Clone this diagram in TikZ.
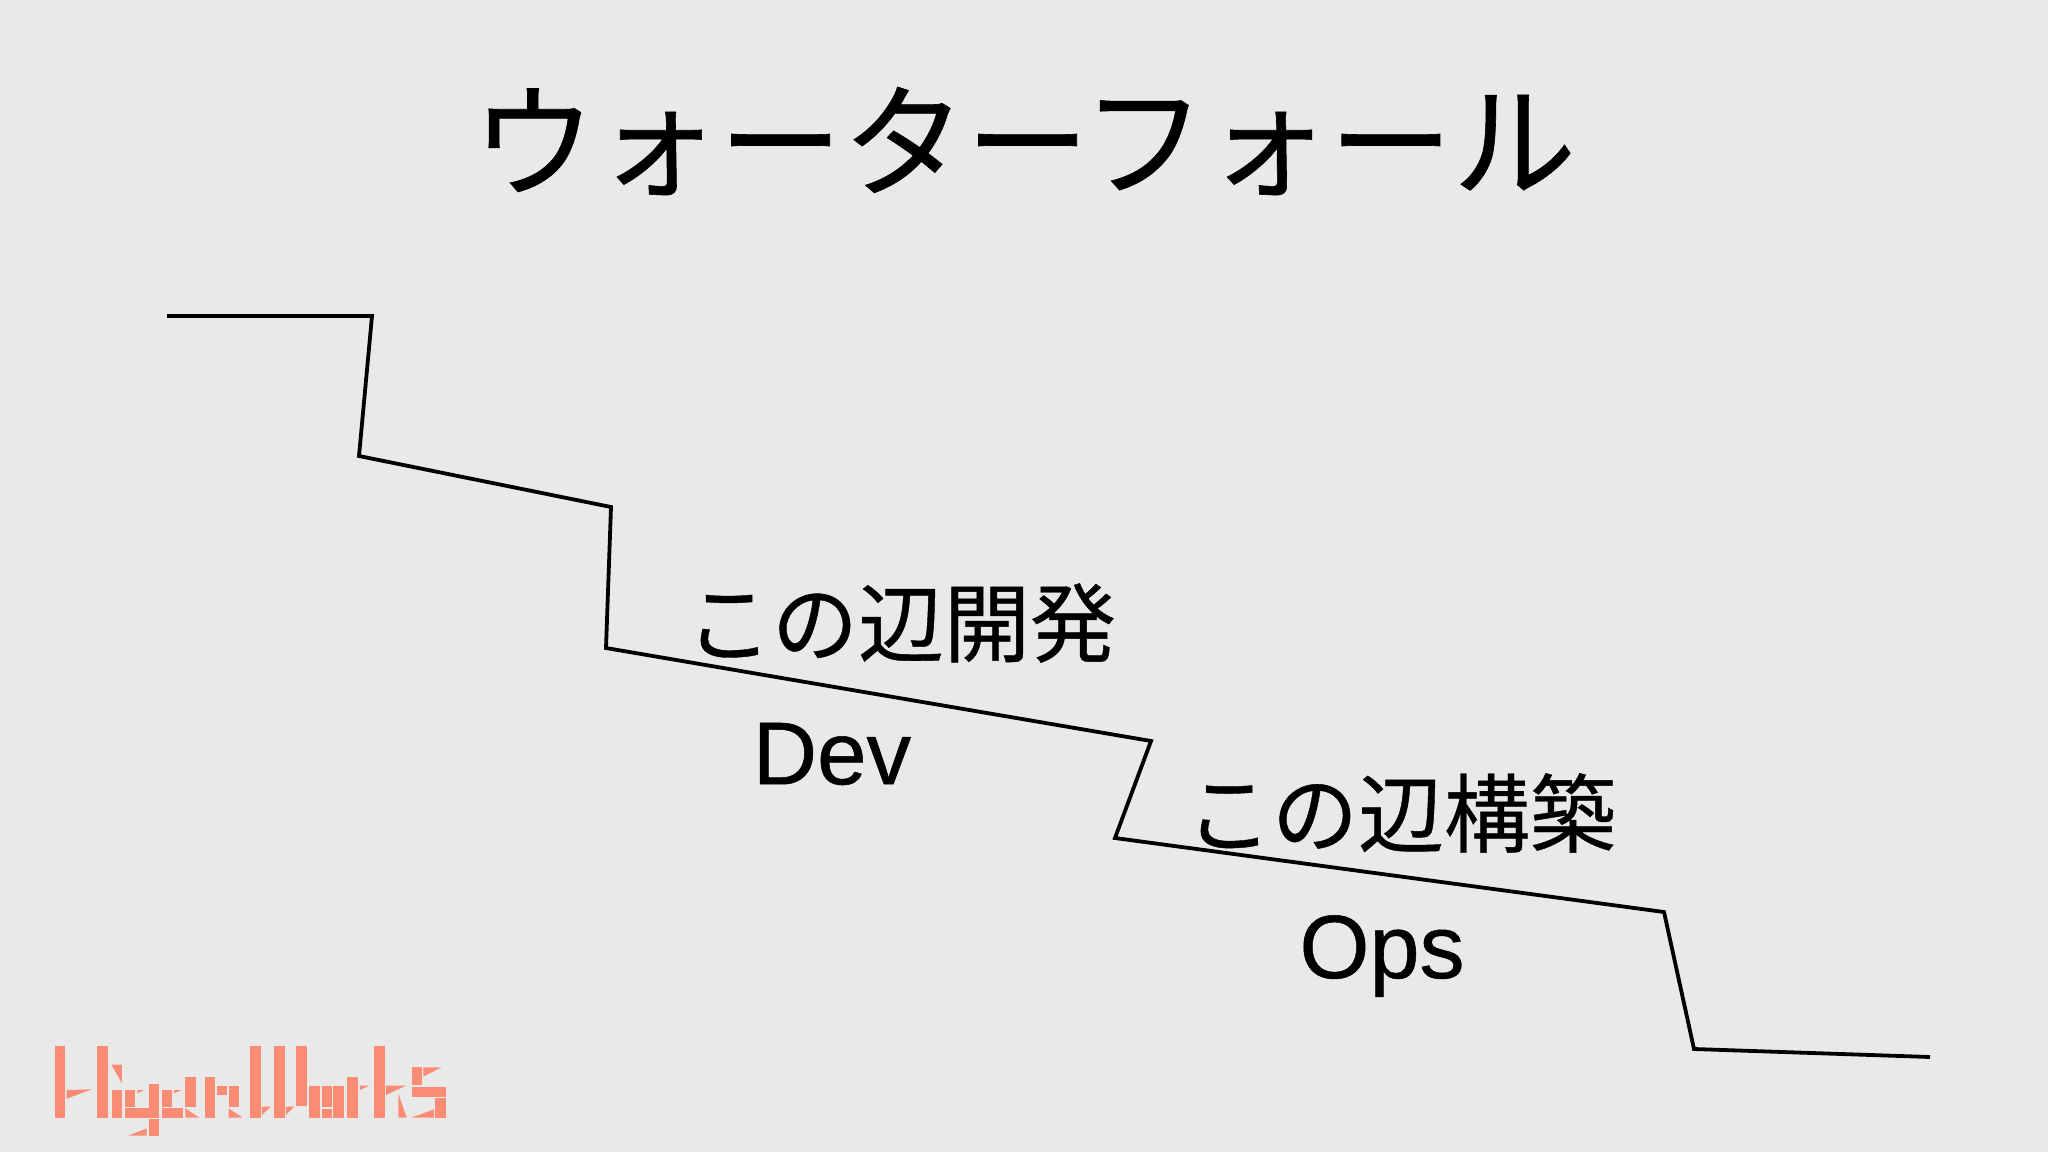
\documentclass[tikz,border=0pt]{standalone}
\usepackage{fontspec}
\setmainfont[FakeBold=0.5]{Noto Sans CJK JP}
\setsansfont[FakeBold=0.6]{Liberation Sans}
\definecolor{slidegray}{RGB}{233,233,234}
\definecolor{logosalmon}{RGB}{250,140,118}
\tikzset{
  every node/.style={inner sep=0pt, text=black},
  stairline/.style={line width=3.8pt, color=black, line join=miter},
  logopiece/.style={fill=logosalmon, draw=none},
}
\begin{document}
\begin{tikzpicture}[x=1pt, y=1pt]
\fill [slidegray] (0, 0) rectangle (2048, -1152);
\useasboundingbox (0, 0) rectangle (2048, -1152);
\node (title) at (1024, -141) {\fontsize{123.5}{124}\selectfont ウォーターフォール};
\node (dev-ja) at (901, -623) {\fontsize{86}{86}\selectfont この辺開発};
\node (dev-en) at (832, -754) {\fontsize{89}{89}\sffamily Dev};
\node (ops-ja) at (1401, -813) {\fontsize{86}{86}\selectfont この辺構築};
\node (ops-en) at (1382, -956) {\fontsize{90}{90}\sffamily Ops};
\coordinate (s0) at (167, -316);
\coordinate (s1) at (372, -316);
\coordinate (s2) at (359, -456);
\coordinate (s3) at (611, -507);
\coordinate (s4) at (606, -648);
\coordinate (s5) at (1151, -741);
\coordinate (s6) at (1115, -838);
\coordinate (s7) at (1664, -912);
\coordinate (s8) at (1694, -1049);
\coordinate (s9) at (1930, -1057);
\draw [stairline] (s0) -- (s1) -- (s2) -- (s3) -- (s4) -- (s5) -- (s6) -- (s7) -- (s8) -- (s9);
% logo
\begin{scope}[shift={(30, -1020)}, x=0.3333pt, y=-0.3333pt]
\fill [logopiece] (74, 78) rectangle (106, 293);
\fill [logopiece] (110, 210) -- (186, 208) -- (110, 236) -- cycle;
\fill [logopiece] (202, 78) rectangle (234, 293);
\fill [logopiece] (244, 134) -- (276, 134) -- (276, 190) -- cycle;
\fill [logopiece] (246, 210) rectangle (276, 293);
\fill [logopiece] (286, 210) rectangle (314, 260);
\fill [logopiece] (322, 210) -- (342, 210) -- (322, 220) -- cycle;
\fill [logopiece] (356, 192) rectangle (387, 263);
\fill [logopiece] (286, 265) rectangle (387, 293);
\fill [logopiece] (295, 347) -- (350, 325) -- (350, 347) -- cycle;
\fill [logopiece] (356, 298) rectangle (387, 347);
\fill [logopiece] (396, 210) rectangle (426, 260);
\fill [logopiece] (432, 210) -- (455, 210) -- (432, 220) -- cycle;
\fill [logopiece] (396, 265) rectangle (458, 293);
\fill [logopiece] (466, 172) rectangle (498, 260);
\fill [logopiece] (466, 265) -- (508, 293) -- (466, 293) -- cycle;
\fill [logopiece] (524, 172) rectangle (555, 293);
\fill [logopiece] (560, 198) rectangle (590, 225);
\fill [logopiece] (596, 198) rectangle (628, 262);
\fill [logopiece] (596, 265) -- (638, 293) -- (596, 293) -- cycle;
\fill [logopiece] (660, 78) rectangle (692, 293);
\fill [logopiece] (696, 260) -- (722, 260) -- (696, 285) -- cycle;
\fill [logopiece] (732, 78) rectangle (764, 293);
\fill [logopiece] (768, 260) -- (792, 260) -- (768, 285) -- cycle;
\fill [logopiece] (798, 78) rectangle (830, 257);
\fill [logopiece] (838, 197) rectangle (870, 293);
\fill [logopiece] (875, 197) rectangle (905, 260);
\fill [logopiece] (875, 268) rectangle (905, 293);
\fill [logopiece] (910, 197) rectangle (943, 293);
\fill [logopiece] (952, 170) rectangle (985, 293);
\fill [logopiece] (990, 197) -- (1018, 197) -- (990, 210) -- cycle;
\fill [logopiece] (1032, 78) rectangle (1064, 293);
\fill [logopiece] (1068, 197) -- (1128, 197) -- (1068, 225) -- cycle;
\fill [logopiece] (1105, 220) -- (1130, 293) -- (1105, 293) -- cycle;
\fill [logopiece] (1146, 142) rectangle (1176, 195);
\fill [logopiece] (1180, 142) -- (1234, 142) -- (1180, 170) -- cycle;
\fill [logopiece] (1146, 200) rectangle (1248, 230);
\fill [logopiece] (1216, 234) rectangle (1248, 293);
\fill [logopiece] (1144, 293) -- (1212, 268) -- (1212, 293) -- cycle;
\end{scope}
\end{tikzpicture}
\end{document}
